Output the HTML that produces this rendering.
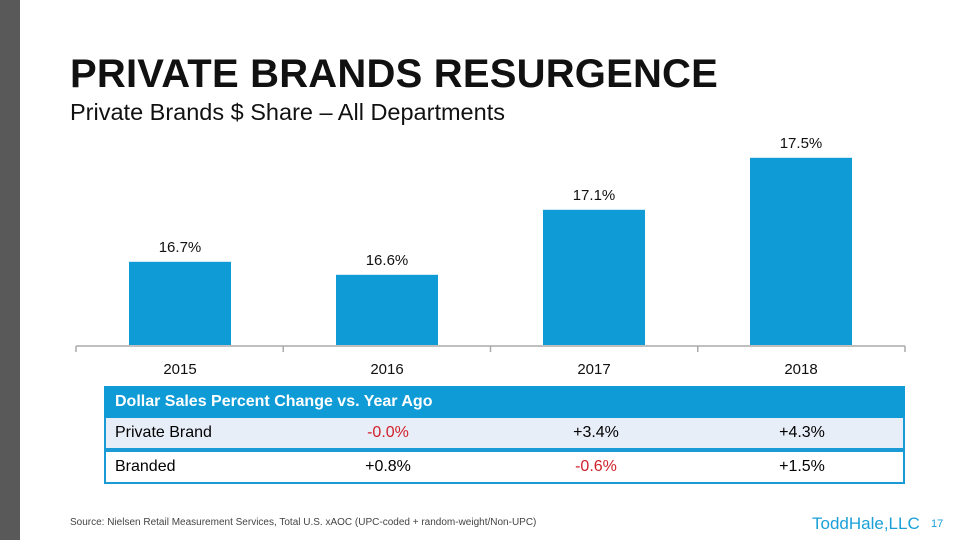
<!DOCTYPE html>
<html><head><meta charset="utf-8"><style>
body{margin:0;width:960px;height:540px;background:#fff;position:relative;overflow:hidden;font-family:"Liberation Sans",sans-serif}
.abs{position:absolute}
</style></head><body>
<div class="abs" style="left:0;top:0;width:20px;height:540px;background:#595959"></div>
<div class="abs" style="left:70px;top:52px;font-size:40px;font-weight:bold;color:#111;letter-spacing:0.2px">PRIVATE BRANDS RESURGENCE</div>
<div class="abs" style="left:70px;top:99px;font-size:23.5px;color:#111">Private Brands $ Share – All Departments</div>
<svg class="abs" style="left:0;top:0" width="960" height="380" id="chart"></svg>
<div class="abs" style="left:104px;top:386px;width:801px;font-size:16px" >
  <div style="height:32px;background:#0e9bd6;color:#fff;font-weight:bold;line-height:32px;padding-left:11px">Dollar Sales Percent Change vs. Year Ago</div>
  <div style="height:30px;background:#e8eef8;border:2px solid #1a9bd6;border-top:none;position:relative;line-height:30px;box-sizing:content-box">
    <span class="abs" style="left:9px">Private Brand</span>
    <span class="abs" style="left:232px;width:100px;text-align:center;color:#d0202a">-0.0%</span>
    <span class="abs" style="left:440px;width:100px;text-align:center">+3.4%</span>
    <span class="abs" style="left:646px;width:100px;text-align:center">+4.3%</span>
  </div>
  <div style="height:30px;background:#fff;border:2px solid #1a9bd6;position:relative;line-height:30px">
    <span class="abs" style="left:9px">Branded</span>
    <span class="abs" style="left:232px;width:100px;text-align:center">+0.8%</span>
    <span class="abs" style="left:440px;width:100px;text-align:center;color:#d0202a">-0.6%</span>
    <span class="abs" style="left:646px;width:100px;text-align:center">+1.5%</span>
  </div>
</div>
<div class="abs" style="left:70px;top:517px;font-size:10px;color:#444">Source: Nielsen Retail Measurement Services, Total U.S. xAOC (UPC-coded + random-weight/Non-UPC)</div>
<div class="abs" style="left:812px;top:514px;font-size:17px;color:#1aa0d8">ToddHale,LLC</div>
<div class="abs" style="left:931px;top:518px;font-size:11px;color:#1aa0d8">17</div>
<script>
const categories=["2015","2016","2017","2018"];
const values=[16.7,16.6,17.1,17.5];
const labels=["16.7%","16.6%","17.1%","17.5%"];
const svg=document.getElementById('chart');
const NS='http://www.w3.org/2000/svg';
const base=345,vmin=16.06,ppu=130;
function y(v){return base-(v-vmin)*ppu;}
function xc(i){return 180+i*207;}
function mk(t,a){const e=document.createElementNS(NS,t);for(const k in a)e.setAttribute(k,a[k]);svg.appendChild(e);return e;}
categories.forEach((c,i)=>{
  const r=mk('rect',{x:xc(i)-51,y:y(values[i]),width:102,height:base-y(values[i]),fill:'#0e9bd6'});
  
  
  const l=mk('text',{x:xc(i),y:y(values[i])-10,'text-anchor':'middle','font-size':15,fill:'#111','font-family':'Liberation Sans, sans-serif'});
  l.textContent=labels[i];
  
  
  const t=mk('text',{x:xc(i),y:374,'text-anchor':'middle','font-size':15,fill:'#111','font-family':'Liberation Sans, sans-serif'});
  t.textContent=c;
  
  
});
const ax=mk('line',{x1:76,x2:905,y1:346,y2:346,stroke:'#aaa','stroke-width':1.5});


for(let i=0;i<=4;i++){const tk=mk('line',{x1:76+i*207.25,x2:76+i*207.25,y1:346,y2:352,stroke:'#aaa','stroke-width':1.5});

}
</script>
</body></html>
